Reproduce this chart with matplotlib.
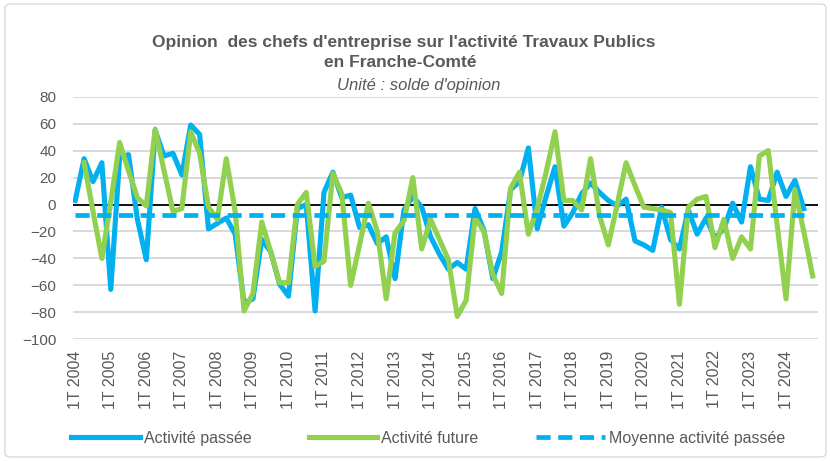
import numpy as np
import matplotlib
matplotlib.use("Agg")
import matplotlib.pyplot as plt
from matplotlib import font_manager as fm
from matplotlib.patches import FancyBboxPatch
from matplotlib.lines import Line2D

avail = {f.name for f in fm.fontManager.ttflist}
NARROW = 'Liberation Sans Narrow' if 'Liberation Sans Narrow' in avail else 'Liberation Sans'
REG = 'Liberation Sans'

YEARS = list(range(2004, 2025))
QUARTER_LABELS = [f"{q}T {y}" for y in YEARS for q in range(1, 5)]

activite_passee = [
    3, 34, 17, 31, -63, 35, 37, -11, -41, 55,
    36, 38, 22, 59, 52, -18, -14, -10, -22, -73,
    -70, -26, -35, -59, -68, -3, 0, -79, 9, 24,
    5, 7, -17, -15, -29, -24, -55, -4, 6, -2,
    -24, -37, -48, -43, -48, -3, -19, -55, -35, 11,
    17, 42, -18, 6, 28, -16, -6, 8, 16, 9,
    3, -1, 4, -27, -30, -34, -2, -26, -33, -4,
    -22, -10, -25, -18, 1, -13, 28, 4, 3, 24,
    6, 18, -3, np.nan,
]
activite_future = [
    np.nan, 31, -5, -40, 2, 46, 25, 5, -1, 56,
    25, -5, -3, 54, 38, -2, -11, 34, -5, -79,
    -66, -13, -35, -58, -58, 0, 9, -46, -42, 23,
    8, -60, -30, 1, -20, -70, -21, -12, 20, -33,
    -11, -26, -41, -83, -71, -10, -20, -52, -66, 12,
    24, -22, -3, 24, 54, 3, 3, -4, 34, -8,
    -30, 0, 31, 14, -2, -3, -4, -6, -74, -2,
    4, 6, -32, -11, -40, -24, -33, 36, 40, -15,
    -70, 11, -20, -53,
]
moyenne_passee = -7.7

BLUE = '#00b0f0'
GREEN = '#92d050'
GREY_TXT = '#595959'

W, H = 830, 461
fig = plt.figure(figsize=(W / 100, H / 100), dpi=100)
fig.patch.set_facecolor('white')

ax = fig.add_axes([73 / W, 1 - 339.3 / H, (818 - 73) / W, (339.3 - 96.7) / H])
x = np.arange(len(QUARTER_LABELS))
blue = np.array(activite_passee, dtype=float)
green = np.array(activite_future, dtype=float)

ax.set_ylim(-100, 80)
ax.set_xlim(-0.25, len(x) - 1 + 0.6)
ax.set_yticks(np.arange(-100, 81, 20))
ax.yaxis.grid(True, color='#d9d9d9', lw=1.4)
ax.set_axisbelow(True)
ax.axhline(0, color='black', lw=1.3, zorder=1.5)

ax.plot(x, blue, color=BLUE, lw=3.7, zorder=3)
ax.plot(x, green, color=GREEN, lw=3.7, zorder=4)
mask = ~np.isnan(blue)
ax.plot(x[mask], np.full(mask.sum(), moyenne_passee), color=BLUE, lw=3.4,
        dashes=(3.0, 1.6), zorder=5)

for s in ax.spines.values():
    s.set_visible(False)
ax.tick_params(length=0)
ax.tick_params(axis='y', pad=12, labelsize=11, labelcolor=GREY_TXT)
for t in ax.get_yticklabels():
    t.set_family(NARROW)
ax.set_xticks(x[::4])
ax.set_xticklabels(QUARTER_LABELS[::4], rotation=90, fontsize=11.5,
                   color=GREY_TXT, family=REG)
ax.tick_params(axis='x', pad=8)

fig.text(404 / W, 1 - 42 / H, "Opinion  des chefs d'entreprise sur l'activité Travaux Publics",
         ha='center', va='center', fontsize=12.5, fontweight='bold',
         color=GREY_TXT, family=NARROW)
fig.text(400 / W, 1 - 62.5 / H, "en Franche-Comté",
         ha='center', va='center', fontsize=12.5, fontweight='bold',
         color=GREY_TXT, family=NARROW)
fig.text(419 / W, 1 - 85 / H, "Unité : solde d'opinion",
         ha='center', va='center', fontsize=12, style='italic',
         color=GREY_TXT, family=NARROW)

handles = [
    Line2D([], [], color=BLUE, lw=3.7),
    Line2D([], [], color=GREEN, lw=3.7),
    Line2D([], [], color=BLUE, lw=3.4, dashes=(3.0, 1.6)),
]
labels = ["Activité passée", "Activité future", "Moyenne activité passée"]
fig.legend(handles, labels, loc='center', bbox_to_anchor=(428 / W, 1 - 438 / H),
           ncol=3, frameon=False, handlelength=4.3, handletextpad=0.25,
           columnspacing=3.6, prop={'family': NARROW, 'size': 11.5},
           labelcolor=GREY_TXT)

fig.patches.append(FancyBboxPatch((5 / W, 4 / H), 821 / W, 453 / H,
                                  boxstyle='round,pad=0,rounding_size=0.008',
                                  transform=fig.transFigure, fill=False,
                                  ec='#d9d9d9', lw=1.0))

fig.savefig('out.png', dpi=100)
